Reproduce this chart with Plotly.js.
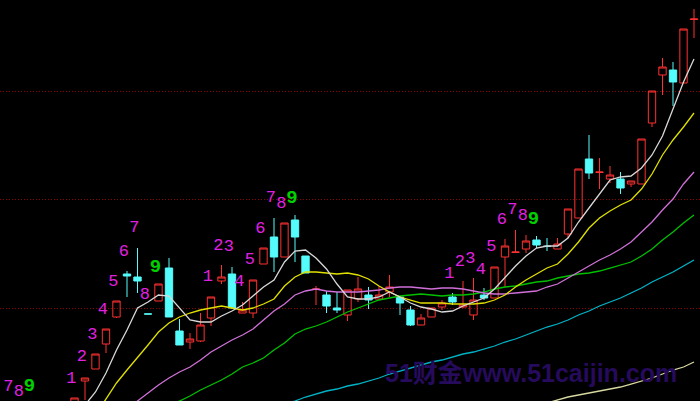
<!DOCTYPE html>
<html>
<head>
<meta charset="utf-8">
<script src="https://cdn.plot.ly/plotly-3.0.1.min.js"></script>
<style>
html,body{margin:0;padding:0;background:#000;}
#chart{width:700px;height:401px;}
</style>
</head>
<body>
<div id="chart"></div>
<script>
// ---- candle data (bar index, open, high, low, close) ----
const bars   = [0,1,2,3,4,5,6,7,8,9,10,11,12,13,14,15,16,17,18,19,20,21,22,23,24,25,26,27,28,29,30,31,32,33,34,35,36,37,38,39,40,41,42,43,44,45,46,47,48,49,50,51,52,53,54,55,56,57,58,59];
const openP  = [3.6,7.0,8.2,10.7,13.4,17.7,17.4,13.7,15.0,18.3,12.0,10.9,11.0,13.3,17.0,17.7,13.8,13.8,18.7,21.4,19.4,23.1,19.5,16.15,15.6,14.3,13.6,15.2,15.6,15.2,15.9,15.4,14.1,12.6,13.4,14.4,15.4,14.4,13.6,15.6,15.3,19.4,19.85,20.2,21.1,20.5,20.2,21.7,23.3,29.2,27.85,27.2,27.2,26.7,26.7,32.8,37.6,38.1,36.8,43.15];
const highP  = [5.3,7.3,9.7,12.2,15.0,18.0,20.3,13.7,16.7,19.3,13.2,11.8,13.8,15.4,18.6,18.4,14.9,17.1,20.3,23.3,22.8,23.6,19.5,16.5,16.0,15.9,16.1,17.4,16.4,16.5,17.6,15.4,14.5,13.7,14.3,15.1,15.8,17.0,17.3,16.3,18.4,21.2,22.1,21.6,21.5,21.3,21.3,24.2,28.2,31.6,29.3,28.5,27.9,27.0,31.2,36.0,39.3,38.9,42.2,44.2];
const lowP   = [3.1,5.1,8.2,9.8,13.3,15.4,15.8,13.7,15.0,13.4,10.6,10.2,10.9,12.5,16.7,14.2,13.8,13.3,18.7,17.9,19.4,18.9,17.8,14.6,13.8,13.8,13.0,14.9,14.2,15.1,15.4,13.6,12.5,12.6,13.4,14.1,14.6,14.3,13.1,15.1,15.3,16.4,19.85,19.8,20.3,20.0,20.2,21.3,23.3,27.2,26.2,26.8,25.7,26.4,26.7,32.4,35.6,34.5,36.8,41.3];
const closeP = [5.3,7.3,9.7,12.2,15.0,17.5,17.0,13.7,16.7,13.4,10.6,11.2,12.6,15.4,17.4,14.3,14.1,17.1,20.3,19.4,22.8,21.4,17.8,16.2,14.5,14.1,16.1,16.2,15.1,15.6,16.4,14.8,12.6,13.3,14.3,14.8,14.9,14.6,15.1,15.3,18.4,20.5,19.9,21.0,20.6,20.45,20.7,24.2,28.2,27.8,27.9,27.6,26.3,27.0,31.2,36.0,38.4,36.9,42.2,43.2];

// ---- moving averages (first bar index + values) ----
const ma5Start = 1;
const ma5 = [4.6,5.9,7.8,10.1,12.1,14.3,14.9,15.6,15.5,14.3,13.1,12.9,12.9,13.5,14.0,14.6,15.5,16.4,17.1,18.9,20.0,20.1,19.3,18.2,16.7,15.4,15.2,15.2,15.4,15.9,15.4,14.8,14.4,14.2,13.9,14.0,14.5,14.9,15.3,16.2,17.4,18.5,19.5,20.3,20.5,20.5,21.3,22.9,24.3,25.7,27.1,27.4,27.5,28.3,29.6,31.5,34.1,36.9,39.2];
const ma10Start = 2;
const ma10 = [3.6,5.2,6.8,8.1,9.3,10.6,11.9,12.8,13.4,13.8,14.1,14.3,14.5,14.3,14.1,14.3,14.7,15.2,16.5,17.4,17.9,17.9,17.8,17.7,17.8,17.6,17.2,16.5,15.9,15.4,15.1,14.8,14.8,14.8,14.7,14.7,14.7,14.8,15.1,15.6,16.4,17.1,17.7,18.3,18.7,19.7,20.9,22.3,23.3,24.0,24.6,25.1,26.2,27.7,29.6,31.1,32.4,33.8];
const ma20Start = 5;
const ma20 = [4.3,5.0,5.8,6.6,7.3,7.9,8.4,9.1,9.9,10.5,11.1,11.6,12.2,13.1,14.0,14.7,15.6,16.0,16.2,16.0,15.9,15.9,15.9,16.0,16.1,16.3,16.4,16.4,16.3,16.2,16.3,16.3,16.2,16.0,15.8,15.7,15.7,15.8,15.9,16.0,16.4,16.7,17.3,17.9,18.5,19.1,19.6,20.2,20.9,21.9,22.9,24.1,25.2,26.7,27.9];
const ma30Start = 9;
const ma30 = [4.4,5.0,5.5,6.1,6.6,7.1,7.7,8.4,8.8,9.3,10.1,10.8,11.7,12.2,12.5,12.9,13.4,13.9,14.3,14.7,15.1,15.3,15.5,15.6,15.7,15.6,15.5,15.6,15.6,15.7,15.9,16.2,16.4,16.5,16.7,16.9,17.0,17.3,17.5,17.7,17.8,18.0,18.3,18.6,18.9,19.5,20.2,21.1,21.9,22.8,23.6];
const ma60Start = 20;
const ma60 = [4.7,5.0,5.4,5.7,6.0,6.2,6.5,6.7,7.0,7.3,7.7,8.0,8.3,8.6,8.9,9.1,9.4,9.7,9.9,10.2,10.5,10.9,11.2,11.6,12.0,12.4,12.7,13.1,13.6,14.0,14.5,14.9,15.3,15.8,16.3,16.9,17.4,17.9,18.5,19.1];
const ma120Start = 45;
const ma120 = [4.8,5.1,5.4,5.6,5.8,6.0,6.2,6.4,6.7,7.0,7.3,7.7,8.1,8.4,8.9];

// ---- TD sequential count labels (count, bar it belongs to, height) ----
const tdCount = [7,8,9, 1,2,3,4,5,6,7,8,9, 1,2,3,4,5,6,7,8,9, 1,2,3,4,5,6,7,8,9];
const tdBar   = [-5,-4,-3, 1,2,3,4,5,6,7,8,9, 14,15,16,17,18,19,20,21,22, 37,38,39,40,41,42,43,44,45];
const tdY     = [6.4,5.9,6.5, 7.2,9.4,11.6,14.1,16.9,19.9,22.3,15.6,18.4, 17.4,20.5,20.4,16.9,19.1,22.2,25.3,24.7,25.3, 17.7,18.9,19.2,18.1,20.4,23.1,24.1,23.5,23.2];

const gridLevels = [14.3, 25.2, 36.0];
const watermark = '51财金www.51caijin.com';

// ---- styles ----
const RED = '#ff3030', CYAN = '#54fcfc';
const LABEL_SHIFT = -1.3;

const isUp = closeP.map((c, k) => c > openP[k]);
const pick = (arr, want) => arr.filter((_, k) => isUp[k] === want);

function candleTrace(want, color, fill) {
  const st = {line: {color: color, width: 1}, fillcolor: fill};
  return {
    type: 'candlestick',
    x: pick(bars, want), open: pick(openP, want), high: pick(highP, want),
    low: pick(lowP, want), close: pick(closeP, want),
    increasing: st, decreasing: st, whiskerwidth: 0, hoverinfo: 'skip'
  };
}

function maTrace(start, vals, color) {
  return {
    type: 'scatter', mode: 'lines',
    x: vals.map((_, k) => start + k), y: vals,
    line: {color: color, width: 1.3}, hoverinfo: 'skip'
  };
}

function tdTrace(nine, color, size, bold) {
  const keep = tdCount.map(c => (c === 9) === nine);
  return {
    type: 'scatter', mode: 'text',
    x: tdBar.filter((_, k) => keep[k]).map(b => b + LABEL_SHIFT),
    y: tdY.filter((_, k) => keep[k]),
    text: tdCount.filter((_, k) => keep[k]).map(String),
    textposition: 'middle center',
    textfont: {family: 'Liberation Mono, DejaVu Sans Mono, monospace', size: size, color: color, weight: bold ? 'bold' : 'normal'},
    hoverinfo: 'skip'
  };
}

const data = [
  candleTrace(true, RED, 'rgba(0,0,0,0)'),
  candleTrace(false, CYAN, CYAN),
  maTrace(ma120Start, ma120, '#d8d8a0'),
  maTrace(ma60Start, ma60, '#00b4c8'),
  maTrace(ma30Start, ma30, '#00c000'),
  maTrace(ma20Start, ma20, '#d070d8'),
  maTrace(ma10Start, ma10, '#e0e000'),
  maTrace(ma5Start, ma5, '#d8d8d8'),
  tdTrace(false, '#e020e0', 17, false),
  tdTrace(true, '#00d000', 19, true)
];

const layout = {
  width: 700, height: 401,
  margin: {l: 0, r: 0, t: 0, b: 0, pad: 0},
  paper_bgcolor: '#000', plot_bgcolor: '#000',
  showlegend: false,
  boxgap: 0.3, boxgroupgap: 0,
  xaxis: {range: [-7.095, 59.571], showgrid: false, zeroline: false, showticklabels: false,
          ticks: '', showline: false, rangeslider: {visible: false}, fixedrange: true},
  yaxis: {range: [5.0, 45.1], tickvals: gridLevels, showticklabels: false, ticks: '',
          showgrid: true, gridcolor: '#900000', gridwidth: 1, griddash: '1px,2px',
          zeroline: false, showline: false, fixedrange: true},
  annotations: [{
    xref: 'paper', yref: 'paper', x: 0.759, y: 0.07, xanchor: 'center', yanchor: 'middle',
    text: watermark, showarrow: false,
    font: {family: 'Liberation Sans Narrow, Liberation Sans, Noto Sans CJK SC', size: 25, color: '#260b5c', weight: 'bold'}
  }]
};

Plotly.newPlot('chart', data, layout, {staticPlot: true, displayModeBar: false});
</script>
</body>
</html>
